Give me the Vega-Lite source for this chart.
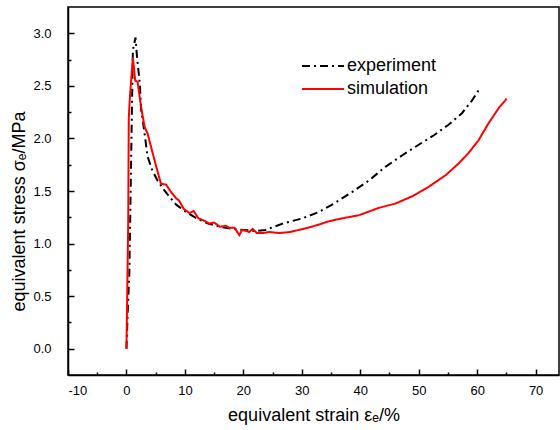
{
  "$schema": "https://vega.github.io/schema/vega-lite/v6.json",
  "width": 491,
  "height": 368,
  "autosize": "none",
  "padding": {"left": 68, "top": 7, "right": 1, "bottom": 55},
  "background": "white",
  "config": {
    "view": {"stroke": "black", "strokeWidth": 1.5},
    "axis": {
      "labelColor": "black",
      "titleColor": "black",
      "labelFontSize": 13,
      "titleFontSize": 18,
      "titleFontWeight": "normal",
      "grid": false
    }
  },
  "data": {
    "values": [
      {"s": "experiment", "x": 0, "y": 0},
      {"s": "experiment", "x": 0.25, "y": 0.4},
      {"s": "experiment", "x": 0.5, "y": 0.73},
      {"s": "experiment", "x": 0.8, "y": 1.8},
      {"s": "experiment", "x": 1.1, "y": 2.84},
      {"s": "experiment", "x": 1.55, "y": 2.96},
      {"s": "experiment", "x": 1.8, "y": 2.78},
      {"s": "experiment", "x": 2.1, "y": 2.62},
      {"s": "experiment", "x": 2.3, "y": 2.51},
      {"s": "experiment", "x": 2.5, "y": 2.27},
      {"s": "experiment", "x": 2.8, "y": 2.17},
      {"s": "experiment", "x": 3.4, "y": 1.92},
      {"s": "experiment", "x": 3.6, "y": 1.83},
      {"s": "experiment", "x": 4.4, "y": 1.7},
      {"s": "experiment", "x": 5.3, "y": 1.6},
      {"s": "experiment", "x": 6.3, "y": 1.52},
      {"s": "experiment", "x": 7.3, "y": 1.45},
      {"s": "experiment", "x": 8.5, "y": 1.37},
      {"s": "experiment", "x": 10.2, "y": 1.3},
      {"s": "experiment", "x": 12, "y": 1.24},
      {"s": "experiment", "x": 14, "y": 1.19},
      {"s": "experiment", "x": 16, "y": 1.16},
      {"s": "experiment", "x": 18, "y": 1.14},
      {"s": "experiment", "x": 20, "y": 1.13},
      {"s": "experiment", "x": 22, "y": 1.12},
      {"s": "experiment", "x": 23.8, "y": 1.13},
      {"s": "experiment", "x": 26.7, "y": 1.19},
      {"s": "experiment", "x": 30.1, "y": 1.24},
      {"s": "experiment", "x": 32.9, "y": 1.3},
      {"s": "experiment", "x": 35.2, "y": 1.37},
      {"s": "experiment", "x": 38.6, "y": 1.49},
      {"s": "experiment", "x": 41.5, "y": 1.6},
      {"s": "experiment", "x": 44.3, "y": 1.73},
      {"s": "experiment", "x": 47.2, "y": 1.84},
      {"s": "experiment", "x": 50, "y": 1.94},
      {"s": "experiment", "x": 52.6, "y": 2.03},
      {"s": "experiment", "x": 55.1, "y": 2.13},
      {"s": "experiment", "x": 57.4, "y": 2.24},
      {"s": "experiment", "x": 59.1, "y": 2.36},
      {"s": "experiment", "x": 60.5, "y": 2.48},
      {"s": "simulation", "x": 0, "y": 0},
      {"s": "simulation", "x": 0.3, "y": 1.2},
      {"s": "simulation", "x": 0.4, "y": 2.2},
      {"s": "simulation", "x": 0.6, "y": 2.4},
      {"s": "simulation", "x": 1.1, "y": 2.77},
      {"s": "simulation", "x": 1.5, "y": 2.55},
      {"s": "simulation", "x": 1.9, "y": 2.54},
      {"s": "simulation", "x": 2.5, "y": 2.3},
      {"s": "simulation", "x": 3.1, "y": 2.11},
      {"s": "simulation", "x": 3.6, "y": 2.05},
      {"s": "simulation", "x": 4.3, "y": 1.9},
      {"s": "simulation", "x": 5.1, "y": 1.73},
      {"s": "simulation", "x": 5.9, "y": 1.57},
      {"s": "simulation", "x": 6.8, "y": 1.56},
      {"s": "simulation", "x": 7.5, "y": 1.5},
      {"s": "simulation", "x": 8.5, "y": 1.43},
      {"s": "simulation", "x": 9, "y": 1.41},
      {"s": "simulation", "x": 9.8, "y": 1.33},
      {"s": "simulation", "x": 10.8, "y": 1.29},
      {"s": "simulation", "x": 11.5, "y": 1.31},
      {"s": "simulation", "x": 12.3, "y": 1.24},
      {"s": "simulation", "x": 13.2, "y": 1.22},
      {"s": "simulation", "x": 14.2, "y": 1.19},
      {"s": "simulation", "x": 15, "y": 1.2},
      {"s": "simulation", "x": 16, "y": 1.16},
      {"s": "simulation", "x": 17, "y": 1.17},
      {"s": "simulation", "x": 17.6, "y": 1.15},
      {"s": "simulation", "x": 18.5, "y": 1.15},
      {"s": "simulation", "x": 19.3, "y": 1.08},
      {"s": "simulation", "x": 19.8, "y": 1.13},
      {"s": "simulation", "x": 20.5, "y": 1.12},
      {"s": "simulation", "x": 21, "y": 1.11},
      {"s": "simulation", "x": 21.6, "y": 1.14},
      {"s": "simulation", "x": 22.3, "y": 1.1},
      {"s": "simulation", "x": 23.3, "y": 1.1},
      {"s": "simulation", "x": 24.5, "y": 1.11},
      {"s": "simulation", "x": 26.1, "y": 1.1},
      {"s": "simulation", "x": 28, "y": 1.11},
      {"s": "simulation", "x": 29.5, "y": 1.13},
      {"s": "simulation", "x": 31, "y": 1.15},
      {"s": "simulation", "x": 32.9, "y": 1.18},
      {"s": "simulation", "x": 34.5, "y": 1.21},
      {"s": "simulation", "x": 36.9, "y": 1.24},
      {"s": "simulation", "x": 39.8, "y": 1.27},
      {"s": "simulation", "x": 43.2, "y": 1.34},
      {"s": "simulation", "x": 46, "y": 1.38},
      {"s": "simulation", "x": 48.9, "y": 1.45},
      {"s": "simulation", "x": 51.7, "y": 1.54},
      {"s": "simulation", "x": 54.6, "y": 1.65},
      {"s": "simulation", "x": 56.8, "y": 1.76},
      {"s": "simulation", "x": 58.5, "y": 1.86},
      {"s": "simulation", "x": 60.2, "y": 1.98},
      {"s": "simulation", "x": 61.9, "y": 2.14},
      {"s": "simulation", "x": 63.7, "y": 2.29},
      {"s": "simulation", "x": 64.8, "y": 2.36},
      {"s": "simulation", "x": 65, "y": 2.38}
    ]
  },
  "mark": {"type": "line", "strokeWidth": 2},
  "encoding": {
    "x": {
      "field": "x",
      "type": "quantitative",
      "scale": {"domain": [-10, 74], "nice": false, "zero": false},
      "axis": {
        "title": "equivalent strain εₑ/%",
        "titleFont": "Liberation Sans",
        "labelFont": "Liberation Sans",
        "values": [-10, -5, 0, 5, 10, 15, 20, 25, 30, 35, 40, 45, 50, 55, 60, 65, 70],
        "labelExpr": "datum.value % 10 == 0 ? '' + datum.value : ''",
        "tickSize": {"condition": {"test": "datum.value % 10 != 0", "value": -3}, "value": -6},
        "tickWidth": 1.5,
        "tickColor": "black",
        "domainColor": "black",
        "domainWidth": 1.5,
        "labelPadding": 15,
        "titlePadding": 9
      }
    },
    "y": {
      "field": "y",
      "type": "quantitative",
      "scale": {"domain": [-0.25, 3.25], "nice": false, "zero": false},
      "axis": {
        "title": "equivalent stress σₑ/MPa",
        "titleFont": "Liberation Sans",
        "labelFont": "Liberation Sans",
        "values": [0, 0.25, 0.5, 0.75, 1, 1.25, 1.5, 1.75, 2, 2.25, 2.5, 2.75, 3],
        "labelExpr": "(datum.value * 2) % 1 == 0 ? format(datum.value, '.1f') : ''",
        "tickSize": {"condition": {"test": "(datum.value * 2) % 1 != 0", "value": -3}, "value": -6},
        "tickWidth": 1.5,
        "tickColor": "black",
        "domainColor": "black",
        "domainWidth": 1.5,
        "labelPadding": 23,
        "titlePadding": 4,
        "titleY": 204
      }
    },
    "color": {
      "field": "s",
      "type": "nominal",
      "scale": {"domain": ["experiment", "simulation"], "range": ["black", "#ff0000"]},
      "legend": {
        "title": null,
        "orient": "none",
        "legendX": 246,
        "legendY": 50,
        "symbolType": "M-3,0H3",
        "symbolSize": 196,
        "symbolStrokeWidth": 2,
        "labelFontSize": 18,
        "labelFont": "Liberation Sans",
        "labelColor": "black",
        "rowPadding": 5,
        "labelOffset": 15,
        "padding": 0
      }
    },
    "strokeDash": {
      "field": "s",
      "type": "nominal",
      "scale": {"domain": ["experiment", "simulation"], "range": [[8, 4, 2, 4], [1, 0]]},
      "legend": null
    }
  }
}
